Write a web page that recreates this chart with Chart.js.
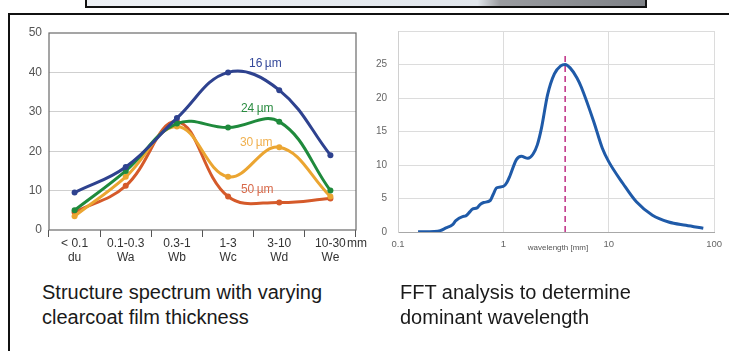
<!DOCTYPE html>
<html>
<head>
<meta charset="utf-8">
<script src="https://cdn.jsdelivr.net/npm/chart.js@4/dist/chart.umd.min.js"></script>
<style>
  html, body { margin: 0; padding: 0; background: #fff; }
  body { width: 729px; height: 351px; position: relative; overflow: hidden; font-family: "Liberation Sans", Arial, sans-serif; }
  .frameTop { position: absolute; left: 8px; top: 13px; width: 730px; height: 2px; background: #111; }
  .frameLeft { position: absolute; left: 8px; top: 13px; width: 2px; height: 340px; background: #111; }
  .topBox { position: absolute; left: 85px; top: -3px; width: 558px; height: 7px; border: 2px solid #111;
            background: linear-gradient(to right, #eef1f5 0%, #e1e6ec 70%, #9a9ca0 74%, #7e8186 100%); }
  .wrap { position: absolute; top: 0; }
  .cap { position: absolute; top: 280px; font-size: 20px; line-height: 25px; color: #1a1a1a; white-space: nowrap; }
</style>
</head>
<body>
<div class="topBox"></div>
<div class="frameTop"></div>
<div class="frameLeft"></div>
<div class="wrap" style="left:0px;width:372px;height:275px;"><canvas id="c1" width="372" height="275"></canvas></div>
<div class="wrap" style="left:370px;width:359px;height:275px;"><canvas id="c2" width="359" height="275"></canvas></div>
<div class="cap" style="left:42px;">Structure spectrum with varying<br>clearcoat film thickness</div>
<div class="cap" style="left:400px;">FFT analysis to determine<br>dominant wavelength</div>
<script>
// ---------- Left chart data ----------
const categories = [["< 0.1","du"],["0.1-0.3","Wa"],["0.3-1","Wb"],["1-3","Wc"],["3-10","Wd"],["10-30","We"]];
const unitLabel = "mm";
const seriesNames = ["16\u2009\u00b5m","24\u2009\u00b5m","30\u2009\u00b5m","50\u2009\u00b5m"];
const s16 = [9.5, 16, 28.4, 40, 35.5, 19];
const s24 = [5, 15, 27, 26, 27.5, 10];
const s30 = [3.5, 13.5, 26.3, 13.5, 21, 8.5];
const s50 = [4.5, 11.2, 27.5, 8.5, 7, 8];
const leftYTicks = [0, 10, 20, 30, 40, 50];

// ---------- Right chart data ----------
const fftX = [0.155, 0.2, 0.238, 0.285, 0.33, 0.354, 0.41, 0.44, 0.48, 0.506, 0.563, 0.6, 0.65, 0.751, 0.8, 0.866, 1.0, 1.08, 1.156, 1.33, 1.48, 1.71, 1.91, 2.1, 2.3, 2.63, 3.05, 3.5, 3.86, 4.3, 5.0, 5.5, 7.2, 8.7, 10.0, 13.7, 18.3, 26, 37, 54, 79];
const fftY = [0.05, 0.05, 0.1, 0.6, 1.1, 1.7, 2.3, 2.4, 3.0, 3.4, 3.6, 4.1, 4.4, 4.7, 5.6, 6.6, 6.8, 7.4, 8.4, 10.8, 11.3, 11.0, 11.6, 13.0, 15.5, 20.5, 23.6, 24.8, 25, 24.5, 23, 21.6, 16.5, 12.5, 10.5, 7.2, 4.5, 2.5, 1.5, 1.0, 0.55];
const dominantX = 3.86;
const dominantLineTop = 26.8;
const rightXTicks = [0.1, 1, 10, 100];
const rightYTicks = [0, 5, 10, 15, 20, 25];
const xAxisTitle = "wavelength [mm]";

const FONT = "'Liberation Sans', Arial, sans-serif";
const colors = ["#2e428f", "#1f8a3c", "#eba531", "#d55a2a"];
const labelColors = ["#34489a", "#2a8c40", "#f0b04e", "#d8694a"];

const leftPlugin = {
  id: 'leftDeco',
  beforeDatasetsDraw(chart) {
    const a = chart.chartArea, ctx = chart.ctx;
    ctx.save();
    ctx.strokeStyle = "#6a6a6a";
    ctx.lineWidth = 1.2;
    ctx.strokeRect(a.left, a.top, a.right - a.left, a.bottom - a.top);
    ctx.restore();
  },
  afterDatasetsDraw(chart) {
    const ctx = chart.ctx, xs = chart.scales.x, ys = chart.scales.y;
    const pos = [[3.73, 42.3], [3.57, 30.8], [3.55, 22.2], [3.57, 10.2]];
    ctx.save();
    ctx.font = "12px " + FONT;
    ctx.textAlign = "center";
    ctx.textBaseline = "middle";
    seriesNames.forEach((n, i) => {
      ctx.fillStyle = labelColors[i];
      ctx.fillText(n, xs.getPixelForValue(pos[i][0]), ys.getPixelForValue(pos[i][1]));
    });
    ctx.fillStyle = "#333";
    ctx.textAlign = "left";
    ctx.fillText(unitLabel, chart.chartArea.right - 9, chart.chartArea.bottom + 14);
    ctx.restore();
  }
};

new Chart(document.getElementById('c1'), {
  type: 'line',
  data: {
    labels: categories,
    datasets: [s16, s24, s30, s50].map((d, i) => ({
      label: seriesNames[i],
      data: d,
      borderColor: colors[i],
      backgroundColor: colors[i],
      borderWidth: 3,
      pointRadius: 3,
      pointBorderWidth: 0,
      tension: 0.4
    }))
  },
  options: {
    responsive: false,
    animation: false,
    layout: { padding: { left: 0, top: 33, right: 16, bottom: 0 } },
    plugins: { legend: { display: false }, tooltip: { enabled: false } },
    scales: {
      x: {
        offset: true,
        grid: { display: true, offset: true, drawOnChartArea: false, drawTicks: true, tickLength: 7, color: "#555", lineWidth: 1 },
        border: { display: false },
        ticks: { color: "#333", font: { size: 12, family: FONT, lineHeight: 1.15 }, padding: 0, maxRotation: 0, autoSkip: false },
        afterFit(s) { s.height = 45; }
      },
      y: {
        min: 0, max: 50,
        afterBuildTicks(s) { s.ticks = leftYTicks.map(v => ({ value: v })); },
        grid: { color: (c) => (c.tick && (c.tick.value === 0 || c.tick.value === 50)) ? "rgba(0,0,0,0)" : "#cfcfcf", lineWidth: 1, drawTicks: false },
        border: { display: false },
        ticks: { color: "#555", font: { size: 12, family: FONT }, padding: 7 },
        afterFit(s) { s.width = 49; }
      }
    }
  },
  plugins: [leftPlugin]
});

const rightPlugin = {
  id: 'rightDeco',
  afterDraw(chart) {
    const ctx = chart.ctx;
    ctx.save();
    ctx.font = "8px " + FONT;
    ctx.fillStyle = "#555";
    ctx.textAlign = "center";
    ctx.textBaseline = "middle";
    ctx.fillText(xAxisTitle, 188, 248);
    ctx.restore();
  }
};

new Chart(document.getElementById('c2'), {
  type: 'line',
  data: {
    datasets: [
      {
        data: fftX.map((x, i) => ({ x: x, y: fftY[i] })),
        borderColor: "#1f5aa8",
        borderWidth: 3,
        pointRadius: 0,
        tension: 0.4,
        cubicInterpolationMode: 'monotone'
      },
      {
        data: [{ x: dominantX, y: 0 }, { x: dominantX, y: dominantLineTop }],
        borderColor: "#c23a8c",
        borderWidth: 1.6,
        borderDash: [6, 4],
        pointRadius: 0
      }
    ]
  },
  options: {
    responsive: false,
    animation: false,
    layout: { padding: { left: 0, top: 31, right: 11, bottom: 0 } },
    plugins: { legend: { display: false }, tooltip: { enabled: false } },
    scales: {
      x: {
        type: 'logarithmic',
        min: 0.1, max: 100,
        afterBuildTicks(s) { s.ticks = rightXTicks.map(v => ({ value: v })); },
        grid: { color: "#dcdcdc", lineWidth: 1, drawTicks: false },
        border: { display: true, color: "#a8a8a8", width: 1 },
        ticks: { color: "#666", font: { size: 9.5, family: FONT }, padding: 7, maxRotation: 0, autoSkip: false,
                 callback: (v) => String(v) },
        afterFit(s) { s.height = 43; }
      },
      y: {
        min: 0, max: 30,
        afterBuildTicks(s) { s.ticks = [0, 5, 10, 15, 20, 25, 30].map(v => ({ value: v })); },
        grid: { color: "#dcdcdc", lineWidth: 1, drawTicks: false },
        border: { display: true, color: "#d0d0d0", width: 1 },
        ticks: { color: "#666", font: { size: 10, family: FONT }, padding: 11,
                 callback: (v) => rightYTicks.includes(v) ? String(v) : "" },
        afterFit(s) { s.width = 28; }
      }
    }
  },
  plugins: [rightPlugin]
});
</script>
</body>
</html>
